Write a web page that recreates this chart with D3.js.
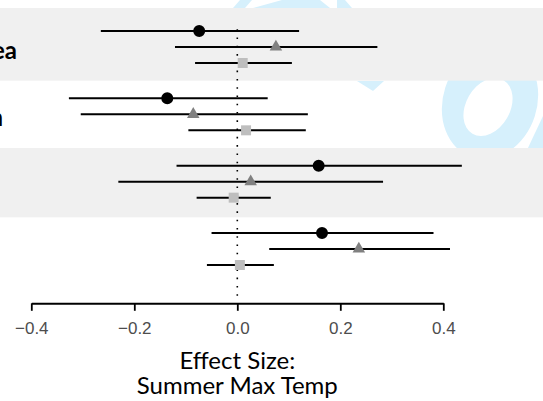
<!DOCTYPE html>
<html>
<head>
<meta charset="utf-8">
<script src="https://cdn.jsdelivr.net/npm/d3@7"></script>
<style>
  body { margin: 0; background: #fff; }
  svg { display: block; }
</style>
</head>
<body>
<div id="chart"></div>
<script>
// groups (labels are cut off at the left edge of the picture)
const groupLabels = ["ea", "n", "", ""];
const seriesNames = ["circle", "triangle", "square"];
const tickValues = [-0.4, -0.2, 0.0, 0.2, 0.4];

// point estimates per group, one per series
const estimate = [
  [-0.074, 0.075, 0.0105],
  [-0.136, -0.0855, 0.017],
  [0.158, 0.026, -0.007],
  [0.1645, 0.236, 0.005]
];
const lower = [
  [-0.265, -0.121, -0.082],
  [-0.327, -0.304, -0.095],
  [-0.118, -0.231, -0.079],
  [-0.050, 0.062, -0.059]
];
const upper = [
  [0.120, 0.272, 0.106],
  [0.059, 0.137, 0.133],
  [0.436, 0.283, 0.065],
  [0.381, 0.413, 0.071]
];

const width = 543, height = 401;
const panelTop = 8, panelBottom = 296;
const labelRight = [17, 3, 0, 0];

const svg = d3.select("#chart").append("svg")
  .attr("width", width).attr("height", height);

const x = d3.scaleLinear().domain([-0.4, 0.4]).range([31.3, 443.3]);

const y = d3.scaleBand()
  .domain(d3.range(groupLabels.length))
  .range([13.33, 13.33 + 67.33 * groupLabels.length]);

const rowOffset = d3.scalePoint().domain(seriesNames).range([-16, 16]);

// faint watermark behind everything
const wm = svg.append("g").attr("fill", "#d6f0fc");
function ellipse(cx, cy, rx, ry, deg) {
  const a = deg * Math.PI / 180, c = Math.cos(a), s = Math.sin(a);
  const x0 = cx - rx * c, y0 = cy - rx * s, x1 = cx + rx * c, y1 = cy + rx * s;
  return `M${x0},${y0}A${rx},${ry} ${deg} 1,0 ${x1},${y1}A${rx},${ry} ${deg} 1,0 ${x0},${y0}Z`;
}
wm.append("path")
  .attr("fill-rule", "evenodd")
  .attr("d", ellipse(490, 102, 47, 58, 18) + ellipse(488, 107, 22, 31, 30));
wm.append("path").attr("d", "M233,8L240,0L252,0L245,8Z");
wm.append("path").attr("d", "M253,8L282,0L320,0L330,8Z");
wm.append("path").attr("d", "M337,0L345,0L352,8L337,8Z");
wm.append("path").attr("d", "M357,81L384,81L373,91Z");
wm.append("path").attr("d", "M543,116L543,150L527,150Z");

// alternating background bands
svg.append("g").selectAll("rect")
  .data(d3.range(groupLabels.length).filter(i => i % 2 === 0))
  .join("rect")
  .attr("x", 0)
  .attr("width", width)
  .attr("y", i => i === 0 ? panelTop : y(i))
  .attr("height", i => i === 0 ? y(i) + y.bandwidth() - panelTop : y.bandwidth() + 2)
  .attr("fill", "#f0f0f0");

// zero reference line
svg.append("line")
  .attr("x1", x(0)).attr("x2", x(0))
  .attr("y1", 29.2).attr("y2", panelBottom)
  .attr("stroke", "#000")
  .attr("stroke-width", 1.6)
  .attr("stroke-dasharray", "1.6,6.68");

// flatten for drawing
const rows = [];
groupLabels.forEach((g, i) => {
  seriesNames.forEach((s, j) => {
    rows.push({
      group: i, series: s,
      est: estimate[i][j], lo: lower[i][j], hi: upper[i][j],
      cy: y(i) + y.bandwidth() / 2 + rowOffset(s)
    });
  });
});

svg.append("g").selectAll("line")
  .data(rows)
  .join("line")
  .attr("x1", d => x(d.lo)).attr("x2", d => x(d.hi))
  .attr("y1", d => d.cy).attr("y2", d => d.cy)
  .attr("stroke", "#000")
  .attr("stroke-width", 2);

const symbolType = { circle: d3.symbolCircle, triangle: d3.symbolTriangle, square: d3.symbolSquare };
const symbolSize = { circle: 113, triangle: 68, square: 100 };
const symbolFill = { circle: "#000000", triangle: "#808080", square: "#bebebe" };

svg.append("g").selectAll("path")
  .data(rows)
  .join("path")
  .attr("transform", d => `translate(${x(d.est)},${d.cy})`)
  .attr("d", d => d3.symbol().type(symbolType[d.series]).size(symbolSize[d.series])())
  .attr("fill", d => symbolFill[d.series]);

// group labels
svg.append("g").selectAll("text")
  .data(groupLabels)
  .join("text")
  .attr("x", (d, i) => labelRight[i])
  .attr("y", (d, i) => y(i) + y.bandwidth() / 2 + 11.7)
  .attr("text-anchor", "end")
  .style("font-family", "Lato, 'Noto Sans', sans-serif")
  .style("font-weight", "bold")
  .style("font-size", "24px")
  .style("fill", "#000")
  .text(d => d);

// x axis
const axis = svg.append("g")
  .attr("transform", "translate(0,303.3)")
  .call(d3.axisBottom(x).tickValues(tickValues).tickSize(7.5).tickSizeOuter(0)
    .tickFormat(d => d3.format(".1f")(d).replace("-", "\u2212")));
axis.select(".domain").attr("stroke", "#000").attr("stroke-width", 2);
axis.selectAll(".tick line").attr("stroke", "#000").attr("stroke-width", 1.8);
axis.selectAll(".tick text")
  .attr("y", 18.4)
  .attr("dy", "0.71em")
  .style("font-family", "'Liberation Sans', Arial, sans-serif")
  .style("font-size", "17px")
  .style("fill", "#4d4d4d");

// axis title
const title = svg.append("text")
  .attr("text-anchor", "middle")
  .style("font-family", "Lato, 'Noto Sans', sans-serif")
  .style("font-size", "24px")
  .style("fill", "#000");
title.append("tspan").attr("x", x(0)).attr("y", 369).text("Effect Size:");
title.append("tspan").attr("x", x(0)).attr("y", 394).text("Summer Max Temp");
</script>
</body>
</html>
